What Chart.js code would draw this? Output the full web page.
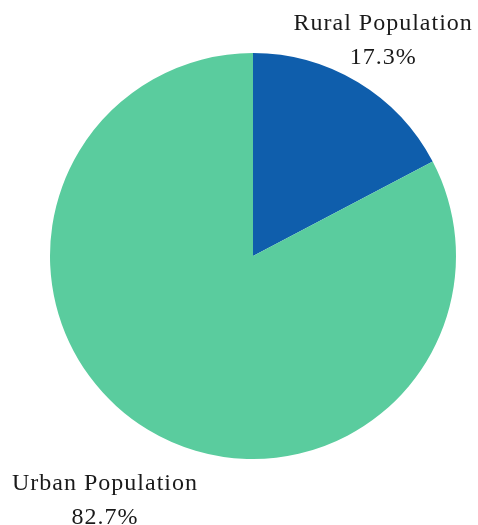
<!DOCTYPE html>
<html>
<head>
<meta charset="utf-8">
<script src="https://cdn.jsdelivr.net/npm/chart.js@4"></script>
<style>
    html, body { margin: 0; padding: 0; background: #ffffff; }
    #wrap { width: 478px; height: 525px; }
</style>
</head>
<body>
<div id="wrap"><canvas id="popPie" width="478" height="525"></canvas></div>
<script>
const categories = ['Rural Population', 'Urban Population'];
const shares = [17.3, 82.7];
const sliceColors = ['#0f5eac', '#5acc9e'];

// draws the two-line labels outside each slice
const outsideLabels = {
    id: 'outsideLabels',
    afterDatasetsDraw(chart, args, opts) {
        const ctx = chart.ctx;
        const meta = chart.getDatasetMeta(0);
        ctx.save();
        ctx.font = '24px "Liberation Serif", serif';
        ctx.letterSpacing = '1px';
        ctx.fillStyle = '#1a1a1a';
        ctx.textAlign = 'center';
        ctx.textBaseline = 'middle';
        meta.data.forEach(function(arc, i) {
            const mid = (arc.startAngle + arc.endAngle) / 2;
            const r = arc.outerRadius * opts.distance[i];
            const x = arc.x + Math.cos(mid) * r;
            const y = arc.y + Math.sin(mid) * r;
            ctx.fillText(chart.data.labels[i], x, y - 17);
            ctx.fillText(shares[i].toFixed(1) + '%', x, y + 17);
        });
        ctx.restore();
    }
};

new Chart(document.getElementById('popPie'), {
    type: 'pie',
    data: {
        labels: categories,
        datasets: [{
            data: shares,
            backgroundColor: sliceColors,
            borderWidth: 0
        }]
    },
    options: {
        responsive: false,
        animation: false,
        layout: {
            padding: { left: 50, right: 22, top: 53, bottom: 66 }
        },
        plugins: {
            legend: { display: false },
            tooltip: { enabled: false },
            outsideLabels: { distance: [1.24, 1.41] }
        }
    },
    plugins: [outsideLabels]
});
</script>
</body>
</html>
